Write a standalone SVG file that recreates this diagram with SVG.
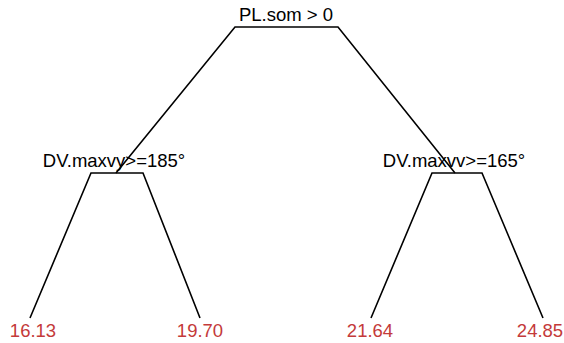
<svg xmlns="http://www.w3.org/2000/svg" width="564" height="343" viewBox="0 0 564 343">
<style>
.e{stroke:#000;stroke-width:1.6;fill:none;stroke-linejoin:miter}
.t{font-family:"Liberation Sans",Arial,sans-serif;font-size:18.5px;text-anchor:middle;fill:#000}
.l{font-family:"Liberation Sans",Arial,sans-serif;font-size:18.5px;text-anchor:middle;fill:#c43a3a}
</style>
<rect width="564" height="343" fill="#fff"/>
<g id="connectors">
<polyline class="e" points="116,173 235,27 338,27 455,173"/>
<polyline class="e" points="30,318 91,173 143,173 200,318"/>
<polyline class="e" points="371,318 432,173 482,173 543,318"/>
</g>
<g id="root"><text class="t" x="286" y="21">PL.som &gt; 0</text></g>
<g id="split-left"><text class="t" x="114" y="167">DV.maxvy&gt;=185°</text></g>
<g id="split-right"><text class="t" x="454" y="167">DV.maxvv&gt;=165°</text></g>
<g id="leaf1"><text class="l" x="33" y="337">16.13</text></g>
<g id="leaf2"><text class="l" x="200" y="337">19.70</text></g>
<g id="leaf3"><text class="l" x="370" y="337">21.64</text></g>
<g id="leaf4"><text class="l" x="540" y="337">24.85</text></g>
</svg>
